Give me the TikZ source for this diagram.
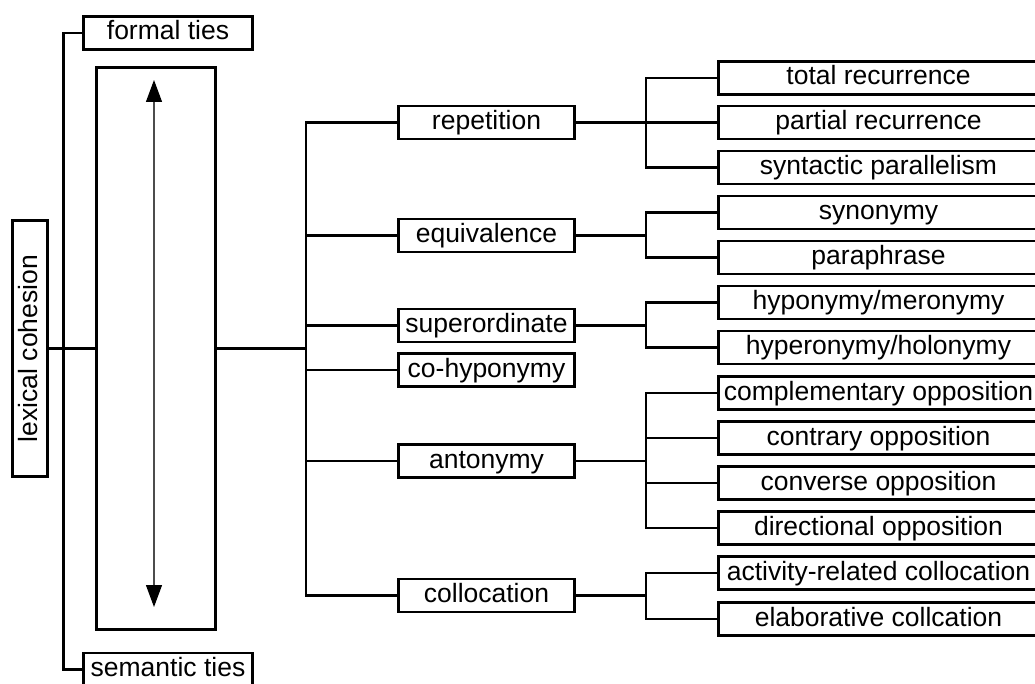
\documentclass[tikz,border=0pt]{standalone}
\usepackage{fontspec}
\setmainfont{Liberation Sans}
\usetikzlibrary{arrows.meta}
\tikzset{
  box/.style={draw, line width=2.8pt, inner sep=0pt, font=\fontsize{26.5}{30}\selectfont, text height=19pt, text depth=5pt},
  lone/.style={box, minimum width=176, minimum height=33},
  ltwo/.style={box, minimum width=320, minimum height=33},
  tie/.style={box, minimum width=169, minimum height=33},
  conn/.style={line width=2.8pt},
  thinconn/.style={line width=2.2pt},
}
\begin{document}
\begin{tikzpicture}[x=1pt,y=-1pt]
\useasboundingbox (0,0) rectangle (1035,684);
\clip (0,0) rectangle (1035,684);
% left part
\node[box, rotate=90, minimum width=256, minimum height=35] (lc) at (30,348.5) {lexical cohesion};
\node[tie] (ft) at (168,33) {formal ties};
\node[tie] (st) at (168,669.5) {semantic ties};
\node[draw, line width=2.8pt, minimum width=119, minimum height=562, inner sep=0pt] (big) at (156,348.5) {};
\coordinate (atop) at (154,80);
\coordinate (abot) at (154,607);
\draw[line width=1.2pt, black!70, {Triangle[width=16pt,length=22pt,fill=black,color=black]}-{Triangle[width=16pt,length=22pt,fill=black,color=black]}] (atop) -- (abot);
\draw[conn] (ft.west) -- ++(-18.5,0) |- (st.west);
\draw[thinconn] (lc.south) -- (big.west);
% trunk
\coordinate (tr) at (306,348.5);
\draw[conn] (big.east) -- (tr);
% level 1
\node[lone] (rep) at (486.5,122.5) {repetition};
\node[lone] (eqv) at (486.5,235.5) {equivalence};
\node[lone] (sup) at (486.5,325.5) {superordinate};
\node[lone] (coh) at (486.5,370) {co-hyponymy};
\node[lone] (ant) at (486.5,461) {antonymy};
\node[lone] (col) at (486.5,595.5) {collocation};
\draw[conn] (rep.west) -| (tr |- col.west) -- (col.west);
\draw[conn] (eqv.west) -- (tr |- eqv.west);
\draw[conn] (sup.west) -- (tr |- sup.west);
\draw[conn] (coh.west) -- (tr |- coh.west);
\draw[conn] (ant.west) -- (tr |- ant.west);
% level 2
\coordinate (b) at (646,0);
\node[ltwo] (tot) at (878.5,78) {total recurrence};
\node[ltwo] (par) at (878.5,122.5) {partial recurrence};
\node[ltwo] (syp) at (878.5,167.5) {syntactic parallelism};
\node[ltwo] (syn) at (878.5,212.5) {synonymy};
\node[ltwo] (pph) at (878.5,257.5) {paraphrase};
\node[ltwo] (hyp) at (878.5,302.5) {hyponymy/meronymy};
\node[ltwo] (hyr) at (878.5,347.5) {hyperonymy/holonymy};
\node[ltwo] (cmp) at (878.5,393) {complementary opposition};
\node[ltwo] (ctr) at (878.5,438) {contrary opposition};
\node[ltwo] (cnv) at (878.5,483) {converse opposition};
\node[ltwo] (dir) at (878.5,528) {directional opposition};
\node[ltwo] (act) at (878.5,573) {activity-related collocation};
\node[ltwo] (ela) at (878.5,619) {elaborative collcation};
% repetition group
\draw[conn] (rep.east) -- (b |- rep.east);
\draw[conn] (tot.west) -- (b |- tot.west) -- (b |- syp.west) -- (syp.west);
\draw[conn] (par.west) -- (b |- par.west);
% equivalence group
\draw[conn] (eqv.east) -- (b |- eqv.east);
\draw[conn] (syn.west) -- (b |- syn.west) -- (b |- pph.west) -- (pph.west);
% superordinate group
\draw[conn] (sup.east) -- (b |- sup.east);
\draw[conn] (hyp.west) -- (b |- hyp.west) -- (b |- hyr.west) -- (hyr.west);
% antonymy group
\draw[conn] (ant.east) -- (b |- ant.east);
\draw[conn] (cmp.west) -- (b |- cmp.west) -- (b |- dir.west) -- (dir.west);
\draw[conn] (ctr.west) -- (b |- ctr.west);
\draw[conn] (cnv.west) -- (b |- cnv.west);
% collocation group
\draw[conn] (col.east) -- (b |- col.east);
\draw[conn] (act.west) -- (b |- act.west) -- (b |- ela.west) -- (ela.west);
\end{tikzpicture}
\end{document}
